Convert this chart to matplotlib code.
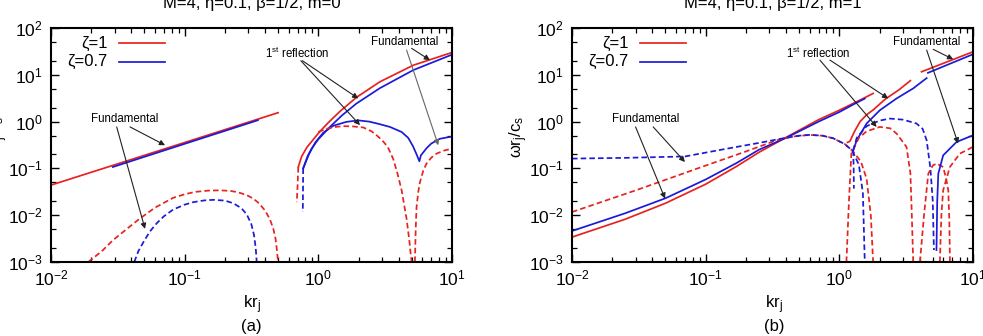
import numpy as np
import matplotlib.pyplot as plt
from matplotlib.ticker import FixedLocator, FixedFormatter, NullFormatter

plt.rcParams['font.family'] = ['Liberation Sans', 'DejaVu Sans']
plt.rcParams['mathtext.fontset'] = 'custom'
plt.rcParams['mathtext.rm'] = 'Liberation Sans'
plt.rcParams['mathtext.it'] = 'Liberation Sans:italic'
plt.rcParams['mathtext.default'] = 'regular'

# ---- panel (a): m=0 ----
m0_red_fund_x = [0.01, 0.1, 0.5]
m0_red_fund_y = [0.044, 0.357, 1.55]
m0_blue_fund_x = [0.029, 0.1, 0.353]
m0_blue_fund_y = [0.107, 0.335, 1.07]
m0_red_fund_im_x = [0.019, 0.024, 0.029, 0.036, 0.046, 0.06, 0.082, 0.1, 0.12, 0.15, 0.184, 0.22, 0.25, 0.29, 0.324, 0.36, 0.40, 0.434, 0.46, 0.478, 0.49, 0.499]
m0_red_fund_im_y = [0.001, 0.0017, 0.0029, 0.0048, 0.0084, 0.0145, 0.0235, 0.028, 0.0315, 0.0335, 0.034, 0.033, 0.031, 0.027, 0.0229, 0.018, 0.0125, 0.0082, 0.0052, 0.0032, 0.0018, 0.001]
m0_blue_fund_im_x = [0.042, 0.045, 0.05, 0.055, 0.062, 0.07, 0.082, 0.1, 0.116, 0.14, 0.164, 0.2, 0.231, 0.265, 0.291, 0.315, 0.33, 0.34, 0.346]
m0_blue_fund_im_y = [0.001, 0.0017, 0.0029, 0.0045, 0.0068, 0.0095, 0.0132, 0.0168, 0.019, 0.0207, 0.0213, 0.0205, 0.018, 0.0142, 0.0105, 0.0065, 0.0038, 0.002, 0.001]

m0_red_refl_x = [0.708, 0.75, 0.82, 0.92, 1.03, 1.2, 1.45, 1.93, 2.89, 5.13, 10]
m0_red_refl_y = [0.107, 0.18, 0.28, 0.42, 0.62, 0.98, 1.65, 3.3, 7.1, 16.0, 30.0]
m0_red_refl_im_x = [0.708, 0.70, 0.69]
m0_red_refl_im_y = [0.107, 0.045, 0.019]
m0_blue_refl_x = [0.77, 0.83, 0.89, 1.0, 1.22, 1.5, 1.93, 2.89, 5.13, 10]
m0_blue_refl_y = [0.1, 0.18, 0.265, 0.42, 0.77, 1.35, 2.44, 5.19, 12.6, 27.0]
m0_blue_refl_im_x = [0.77, 0.768, 0.765]
m0_blue_refl_im_y = [0.1, 0.035, 0.0117]
m0_blue_hump_x = [0.77, 0.85, 0.95, 1.09, 1.3, 1.63, 2.0, 2.4, 2.8, 3.43, 4.2, 4.7, 5.1, 5.43, 5.7, 5.85, 6.45, 7.0, 8.13, 10]
m0_blue_hump_y = [0.1, 0.2, 0.36, 0.58, 0.82, 0.99, 1.06, 1.0, 0.9, 0.77, 0.6, 0.45, 0.3, 0.2, 0.142, 0.19, 0.27, 0.34, 0.43, 0.48]
m0_red_hump_im_x = [1.0, 1.15, 1.29, 1.53, 1.8, 2.17, 2.5, 2.73, 3.0, 3.3, 3.63, 3.9, 4.2, 4.57, 4.8, 4.93, 5.0]
m0_red_hump_im_y = [0.6, 0.7, 0.76, 0.80, 0.79, 0.75, 0.62, 0.51, 0.4, 0.29, 0.16, 0.08, 0.034, 0.0085, 0.0028, 0.0013, 0.001]
m0_red_right_im_x = [5.28, 5.35, 5.43, 5.6, 5.75, 6.1, 6.45, 7.0, 7.67, 8.7, 10]
m0_red_right_im_y = [0.001, 0.005, 0.0149, 0.032, 0.05, 0.09, 0.127, 0.17, 0.207, 0.24, 0.265]

# ---- panel (b): m=1 ----
m1_red_fund_x = [0.01, 0.025, 0.05, 0.1, 0.17, 0.25, 0.4, 0.7, 1.0, 1.4, 1.79]
m1_red_fund_y = [0.0034, 0.0082, 0.018, 0.046, 0.11, 0.22, 0.46, 1.1, 1.75, 2.8, 4.0]
m1_blue_fund_x = [0.01, 0.025, 0.05, 0.1, 0.17, 0.25, 0.4, 0.7, 1.0, 1.3, 1.55]
m1_blue_fund_y = [0.0046, 0.011, 0.023, 0.058, 0.13, 0.25, 0.45, 1.0, 1.6, 2.4, 3.1]
m1_red_fund_im_x = [0.01, 0.03, 0.1, 0.2, 0.34, 0.45, 0.6, 0.75, 0.9, 1.1, 1.25, 1.45, 1.6, 1.72, 1.79]
m1_red_fund_im_y = [0.0117, 0.034, 0.115, 0.23, 0.40, 0.48, 0.52, 0.5, 0.44, 0.33, 0.24, 0.14, 0.06, 0.01, 0.001]
m1_blue_fund_im_x = [0.01, 0.025, 0.07, 0.14, 0.25, 0.38, 0.5, 0.6, 0.75, 0.9, 1.1, 1.25, 1.4, 1.5, 1.55]
m1_blue_fund_im_y = [0.162, 0.168, 0.18, 0.26, 0.35, 0.44, 0.5, 0.52, 0.5, 0.44, 0.33, 0.24, 0.12, 0.03, 0.001]

m1_red_refl_x = [1.15, 1.2, 1.3, 1.43, 1.6, 1.8, 2.2, 2.8, 3.4]
m1_red_refl_y = [0.36, 0.38, 0.62, 1.0, 1.4, 1.8, 3.0, 4.8, 7.5]
m1_blue_refl_x = [1.27, 1.35, 1.6, 2.01, 2.68, 3.57, 4.5]
m1_blue_refl_y = [0.244, 0.40, 0.91, 1.75, 3.12, 5.12, 8.5]
m1_blue_refl_stub_x = [1.27, 1.28, 1.285]
m1_blue_refl_stub_y = [0.244, 0.1, 0.037]
m1_red_up_x = [4.12, 10]
m1_red_up_y = [11.6, 31.0]
m1_blue_up_x = [4.6, 10]
m1_blue_up_y = [11.0, 27.5]
m1_red_refl_im_x = [1.13, 1.18, 1.23, 1.4, 1.6, 2.01, 2.4, 2.68, 3.18, 3.4, 3.47, 3.57]
m1_red_refl_im_y = [0.001, 0.02, 0.207, 0.45, 0.62, 0.77, 0.72, 0.556, 0.288, 0.08, 0.015, 0.001]
m1_blue_refl_im_x = [1.27, 1.35, 1.6, 2.0, 2.39, 3.0, 3.78, 4.2, 4.5, 4.8, 5.0, 5.1]
m1_blue_refl_im_y = [0.244, 0.45, 0.8, 1.05, 1.16, 1.1, 0.91, 0.7, 0.40, 0.1, 0.02, 0.0018]
m1_red_hump2_x = [4.01, 4.3, 4.63, 5.0, 5.34, 5.98, 6.3, 6.53, 6.65, 6.72]
m1_red_hump2_y = [0.001, 0.01, 0.077, 0.115, 0.127, 0.107, 0.06, 0.034, 0.008, 0.001]
m1_red_right_im_x = [5.65, 5.8, 5.98, 6.71, 7.98, 10]
m1_red_right_im_y = [0.001, 0.01, 0.034, 0.107, 0.207, 0.288]
m1_blue_right_x = [5.33, 5.4, 5.5, 5.98, 7.53, 10]
m1_blue_right_y = [0.0018, 0.02, 0.077, 0.19, 0.367, 0.51]

xticks = [1e-2, 1e-1, 1e0, 1e1]
xticklabels = ['$10^{-2}$', '$10^{-1}$', '$10^{0}$', '$10^{1}$']
yticks = [1e-3, 1e-2, 1e-1, 1e0, 1e1, 1e2]
yticklabels = ['$10^{-3}$', '$10^{-2}$', '$10^{-1}$', '$10^{0}$', '$10^{1}$', '$10^{2}$']

red = '#e8221e'
blue = '#1a1ad8'
lw = 1.25
dash = (3.2, 1.8)


def setup(ax):
    ax.set_xscale('log')
    ax.set_yscale('log')
    ax.set_xlim(1e-2, 1e1)
    ax.set_ylim(1e-3, 1e2)
    ax.xaxis.set_major_locator(FixedLocator(xticks))
    ax.xaxis.set_major_formatter(FixedFormatter(xticklabels))
    ax.yaxis.set_major_locator(FixedLocator(yticks))
    ax.yaxis.set_major_formatter(FixedFormatter(yticklabels))
    xminor = [m * d for d in [1e-2, 1e-1, 1e0] for m in range(2, 10)]
    yminor = [m * d for d in [1e-3, 1e-2, 1e-1, 1e0, 1e1] for m in (2, 5)]
    ax.xaxis.set_minor_locator(FixedLocator(xminor))
    ax.yaxis.set_minor_locator(FixedLocator(yminor))
    ax.xaxis.set_minor_formatter(NullFormatter())
    ax.yaxis.set_minor_formatter(NullFormatter())
    ax.tick_params(which='both', direction='in', top=True, right=True, labelsize=12.5)
    ax.tick_params(which='major', length=6, width=1.0)
    ax.tick_params(which='minor', length=3.5, width=0.9)
    ax.tick_params(axis='x', pad=5)
    ax.tick_params(axis='y', pad=6)
    for s in ax.spines.values():
        s.set_linewidth(1.5)
    # legend drawn gnuplot style: text then sample line
    ax.text(0.142, 0.935, 'ζ=1', transform=ax.transAxes, ha='right', va='center', fontsize=12)
    ax.text(0.142, 0.856, 'ζ=0.7', transform=ax.transAxes, ha='right', va='center', fontsize=12)
    ax.plot([0.170, 0.284], [0.935, 0.935], color=red, lw=lw, transform=ax.transAxes)
    ax.plot([0.170, 0.284], [0.856, 0.856], color=blue, lw=lw, transform=ax.transAxes)


def arrow(ax, tail, tip, color='#222222'):
    ax.annotate('', xy=tip, xytext=tail,
                arrowprops=dict(arrowstyle='-|>', color=color, lw=0.8, mutation_scale=8,
                                shrinkA=0, shrinkB=0))


fig = plt.figure(figsize=(9.83, 3.36), dpi=100)
ax1 = fig.add_axes([51 / 983, 74 / 336, 401 / 983, 234 / 336])
ax2 = fig.add_axes([572 / 983, 74 / 336, 401 / 983, 234 / 336])

# panel (a)
ax1.plot(m0_red_fund_x, m0_red_fund_y, color=red, lw=lw)
ax1.plot(m0_blue_fund_x, m0_blue_fund_y, color=blue, lw=lw)
ax1.plot(m0_red_fund_im_x, m0_red_fund_im_y, color=red, lw=lw, dashes=dash)
ax1.plot(m0_blue_fund_im_x, m0_blue_fund_im_y, color=blue, lw=lw, dashes=dash)
ax1.plot(m0_red_refl_x, m0_red_refl_y, color=red, lw=lw)
ax1.plot(m0_red_refl_im_x, m0_red_refl_im_y, color=red, lw=lw, dashes=dash)
ax1.plot(m0_blue_refl_x, m0_blue_refl_y, color=blue, lw=lw)
ax1.plot(m0_blue_refl_im_x, m0_blue_refl_im_y, color=blue, lw=lw, dashes=dash)
ax1.plot(m0_blue_hump_x, m0_blue_hump_y, color=blue, lw=lw)
ax1.plot(m0_red_hump_im_x, m0_red_hump_im_y, color=red, lw=lw, dashes=dash)
ax1.plot(m0_red_right_im_x, m0_red_right_im_y, color=red, lw=lw, dashes=dash)
setup(ax1)

ax1.text(0.0357, 1.11, 'Fundamental', ha='center', va='center', fontsize=8.3)
arrow(ax1, (0.039, 0.77), (0.0713, 0.313))
arrow(ax1, (0.031, 0.77), (0.0505, 0.0051))
ax1.text(0.69, 28.7, '1$^{st}$ reflection', ha='center', va='center', fontsize=8.3)
arrow(ax1, (0.76, 20.0), (1.99, 3.12))
arrow(ax1, (0.74, 20.0), (2.05, 0.84))
ax1.text(4.45, 50.9, 'Fundamental', ha='center', va='center', fontsize=8.3)
arrow(ax1, (4.99, 36.7), (6.84, 20.6))
arrow(ax1, (4.57, 33.8), (7.89, 0.313), color='#666666')

# panel (b)
ax2.plot(m1_red_fund_x, m1_red_fund_y, color=red, lw=lw)
ax2.plot(m1_blue_fund_x, m1_blue_fund_y, color=blue, lw=lw)
ax2.plot(m1_red_fund_im_x, m1_red_fund_im_y, color=red, lw=lw, dashes=dash)
ax2.plot(m1_blue_fund_im_x, m1_blue_fund_im_y, color=blue, lw=lw, dashes=dash)
ax2.plot(m1_red_refl_x, m1_red_refl_y, color=red, lw=lw)
ax2.plot(m1_blue_refl_x, m1_blue_refl_y, color=blue, lw=lw)
ax2.plot(m1_blue_refl_stub_x, m1_blue_refl_stub_y, color=blue, lw=lw, dashes=dash)
ax2.plot(m1_red_up_x, m1_red_up_y, color=red, lw=lw)
ax2.plot(m1_blue_up_x, m1_blue_up_y, color=blue, lw=lw)
ax2.plot(m1_red_refl_im_x, m1_red_refl_im_y, color=red, lw=lw, dashes=dash)
ax2.plot(m1_blue_refl_im_x, m1_blue_refl_im_y, color=blue, lw=lw, dashes=dash)
ax2.plot(m1_red_hump2_x, m1_red_hump2_y, color=red, lw=lw, dashes=dash)
ax2.plot(m1_red_right_im_x, m1_red_right_im_y, color=red, lw=lw, dashes=dash)
ax2.plot(m1_blue_right_x, m1_blue_right_y, color=blue, lw=lw)
setup(ax2)

ax2.text(0.0357, 1.12, 'Fundamental', ha='center', va='center', fontsize=8.3)
arrow(ax2, (0.0299, 0.77), (0.0497, 0.0226))
arrow(ax2, (0.0405, 0.77), (0.07, 0.137))
ax2.text(0.692, 28.7, '1$^{st}$ reflection', ha='center', va='center', fontsize=8.3)
arrow(ax2, (0.716, 20.6), (1.90, 0.77))
arrow(ax2, (0.851, 20.6), (2.32, 3.12))
ax2.text(4.5, 50.9, 'Fundamental', ha='center', va='center', fontsize=8.3)
arrow(ax2, (5.04, 35.0), (7.11, 21.4))
arrow(ax2, (4.5, 33.8), (7.74, 0.34))

# titles, axis labels, panel tags (partly clipped at figure edges like the original)
fig.text(251.5 / 983, 1 - 8.3 / 336, 'M=4, η=0.1, β=1/2, m=0', ha='center', va='baseline', fontsize=12)
fig.text(772.5 / 983, 1 - 8.3 / 336, 'M=4, η=0.1, β=1/2, m=1', ha='center', va='baseline', fontsize=12)
fig.text(251.5 / 983, 1 - 308 / 336, 'kr$_{j}$', ha='center', va='baseline', fontsize=12)
fig.text(774 / 983, 1 - 308 / 336, 'kr$_{j}$', ha='center', va='baseline', fontsize=12)
fig.text(251.5 / 983, 1 - 331.5 / 336, '(a)', ha='center', va='baseline', fontsize=12)
fig.text(774 / 983, 1 - 331.5 / 336, '(b)', ha='center', va='baseline', fontsize=12)
fig.text(518.3 / 983, 1 - 136.7 / 336, 'ωr$_{j}$/c$_{s}$', rotation=90, ha='center', va='center', fontsize=12)
fig.text(-1 / 983, 1 - 136.7 / 336, 'ωr$_{j}$/c$_{s}$', rotation=90, ha='center', va='center', fontsize=12)

fig.savefig('out.png', dpi=100)
plt.close(fig)
